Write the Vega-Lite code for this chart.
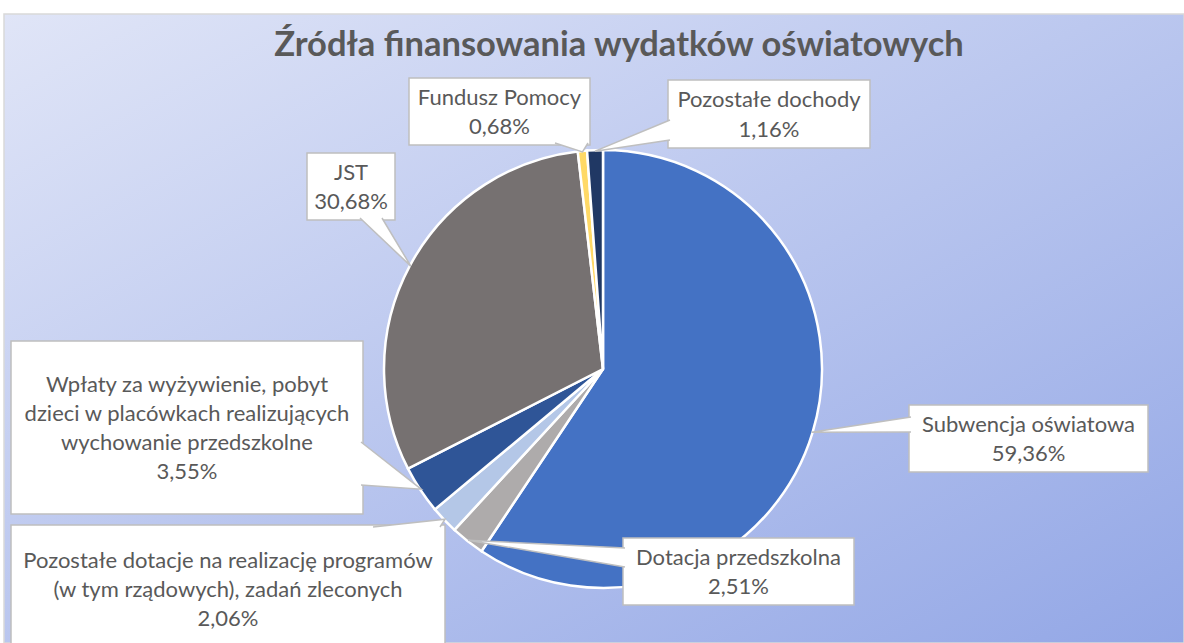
{
  "$schema": "https://vega.github.io/schema/vega-lite/v6.json",
  "width": 1184,
  "height": 643,
  "autosize": {"type": "fit", "contains": "padding"},
  "padding": {"left": 4, "top": 14, "right": 0, "bottom": 0},
  "background": "white",
  "config": {
    "view": {
      "stroke": "#d9d9d9",
      "strokeWidth": 1.5,
      "fill": {"gradient": "linear", "x1": 0, "y1": 0, "x2": 1, "y2": 1,
        "stops": [{"offset": 0, "color": "#e0e5f7"}, {"offset": 1, "color": "#93a7e6"}]}
    }
  },
  "title": {
    "text": "Źródła finansowania wydatków oświatowych",
    "font": "Lato",
    "fontSize": 34.5,
    "fontWeight": "bold",
    "color": "#595959",
    "anchor": "middle",
    "baseline": "alphabetic",
    "offset": -76,
    "dx": 25
  },
  "data": {
    "values": [
      {"k": "Subwencja oświatowa", "v": 59.36},
      {"k": "Dotacja przedszkolna", "v": 2.51},
      {"k": "Pozostałe dotacje na realizację programów (w tym rządowych), zadań zleconych", "v": 2.06},
      {"k": "Wpłaty za wyżywienie, pobyt dzieci w placówkach realizujących wychowanie przedszkolne", "v": 3.55},
      {"k": "JST", "v": 30.68},
      {"k": "Fundusz Pomocy", "v": 0.68},
      {"k": "Pozostałe dochody", "v": 1.16}
    ]
  },
  "transform": [
    {"window": [{"op": "row_number", "as": "idx"}, {"op": "sum", "field": "v", "as": "cum"}]},
    {"calculate": "datum.idx - 1", "as": "i"},
    {"calculate": "2*PI*(datum.cum - datum.v/2)/100", "as": "ang"},
    {"calculate": "218*sin(datum.ang)", "as": "tx"},
    {"calculate": "-218*cos(datum.ang)", "as": "ty"},
    {"calculate": "[306,20,-592,-592,-296,-194,65][datum.i]", "as": "bx1"},
    {"calculate": "[545,251,-158,-240,-208,-13,267][datum.i]", "as": "bx2"},
    {"calculate": "[36,169,156,-28,-216,-291,-289][datum.i]", "as": "by1"},
    {"calculate": "[103,236,284,145,-149,-224,-221][datum.i]", "as": "by2"},
    {"calculate": "split(replace(replace(replace(datum.k, 'pobyt ', 'pobyt|'), 'realizujących ', 'realizujących|'), 'programów ', 'programów|') + '|' + replace(format(datum.v, '.2f'), '.', ',') + '%', '|')", "as": "lab"},
    {"calculate": "(datum.bx1+datum.bx2)/2", "as": "cx"},
    {"calculate": "(datum.by1+datum.by2)/2 - (length(datum.lab)-1)*29.3/2 + 1", "as": "cy"}
  ],
  "layer": [
    {
      "mark": {"type": "arc", "outerRadius": 219, "stroke": "white", "strokeWidth": 2.5},
      "encoding": {
        "x": {"datum": 0, "type": "quantitative", "scale": {"domain": [-599, 581], "nice": false, "zero": false}, "axis": null},
        "y": {"datum": 0, "type": "quantitative", "scale": {"domain": [-355, 274], "nice": false, "zero": false, "reverse": true}, "axis": null},
        "theta": {"field": "v", "type": "quantitative", "stack": true},
        "order": {"field": "idx", "type": "quantitative"},
        "color": {
          "field": "k", "type": "nominal", "legend": null,
          "scale": {
            "domain": ["Subwencja oświatowa", "Dotacja przedszkolna", "Pozostałe dotacje na realizację programów (w tym rządowych), zadań zleconych", "Wpłaty za wyżywienie, pobyt dzieci w placówkach realizujących wychowanie przedszkolne", "JST", "Fundusz Pomocy", "Pozostałe dochody"],
            "range": ["#4472c4", "#aeabab", "#b4c7e7", "#2f5597", "#767171", "#ffd966", "#203864"]
          }
        }
      }
    },
    {
      "mark": {"type": "rect", "fill": "white", "stroke": "#bfbfbf", "strokeWidth": 1.5, "clip": true},
      "encoding": {
        "x": {"field": "bx1", "type": "quantitative", "scale": {"domain": [-599, 581], "nice": false, "zero": false}, "axis": null},
        "x2": {"field": "bx2"},
        "y": {"field": "by1", "type": "quantitative", "scale": {"domain": [-355, 274], "nice": false, "zero": false, "reverse": true}, "axis": null},
        "y2": {"field": "by2"}
      }
    },
    {
      "transform": [
        {"calculate": "[0,1,2]", "as": "wp"},
        {"flatten": ["wp"]},
        {"calculate": "datum.wp == 1 ? datum.tx : (datum.wp == 0 ? [308,22,-230,-242,-243,-48,67][datum.i] : [308,22,-163,-242,-221,-15,67][datum.i])", "as": "px"},
        {"calculate": "datum.wp == 1 ? datum.ty : (datum.wp == 0 ? [48,179,158,73,-151,-226,-249][datum.i] : [63,198,158,116,-151,-226,-229][datum.i])", "as": "py"}
      ],
      "layer": [
        {
          "mark": {"type": "line", "fill": "white", "stroke": "white", "strokeOpacity": 0, "interpolate": "linear-closed"},
          "encoding": {
            "x": {"field": "px", "type": "quantitative", "scale": {"domain": [-599, 581], "nice": false, "zero": false}, "axis": null},
            "y": {"field": "py", "type": "quantitative", "scale": {"domain": [-355, 274], "nice": false, "zero": false, "reverse": true}, "axis": null},
            "detail": {"field": "k", "type": "nominal"},
            "order": {"field": "wp", "type": "quantitative"}
          }
        },
        {
          "mark": {"type": "line", "color": "#bfbfbf", "strokeWidth": 1.5},
          "encoding": {
            "x": {"field": "px", "type": "quantitative", "scale": {"domain": [-599, 581], "nice": false, "zero": false}, "axis": null},
            "y": {"field": "py", "type": "quantitative", "scale": {"domain": [-355, 274], "nice": false, "zero": false, "reverse": true}, "axis": null},
            "detail": {"field": "k", "type": "nominal"},
            "order": {"field": "wp", "type": "quantitative"}
          }
        }
      ]
    },
    {
      "mark": {"type": "text", "font": "Lato", "fontSize": 22, "color": "#595959", "align": "center", "baseline": "middle", "lineHeight": 29.3},
      "encoding": {
        "x": {"field": "cx", "type": "quantitative", "scale": {"domain": [-599, 581], "nice": false, "zero": false}, "axis": null},
        "y": {"field": "cy", "type": "quantitative", "scale": {"domain": [-355, 274], "nice": false, "zero": false, "reverse": true}, "axis": null},
        "text": {"field": "lab", "type": "nominal"}
      }
    }
  ]
}
